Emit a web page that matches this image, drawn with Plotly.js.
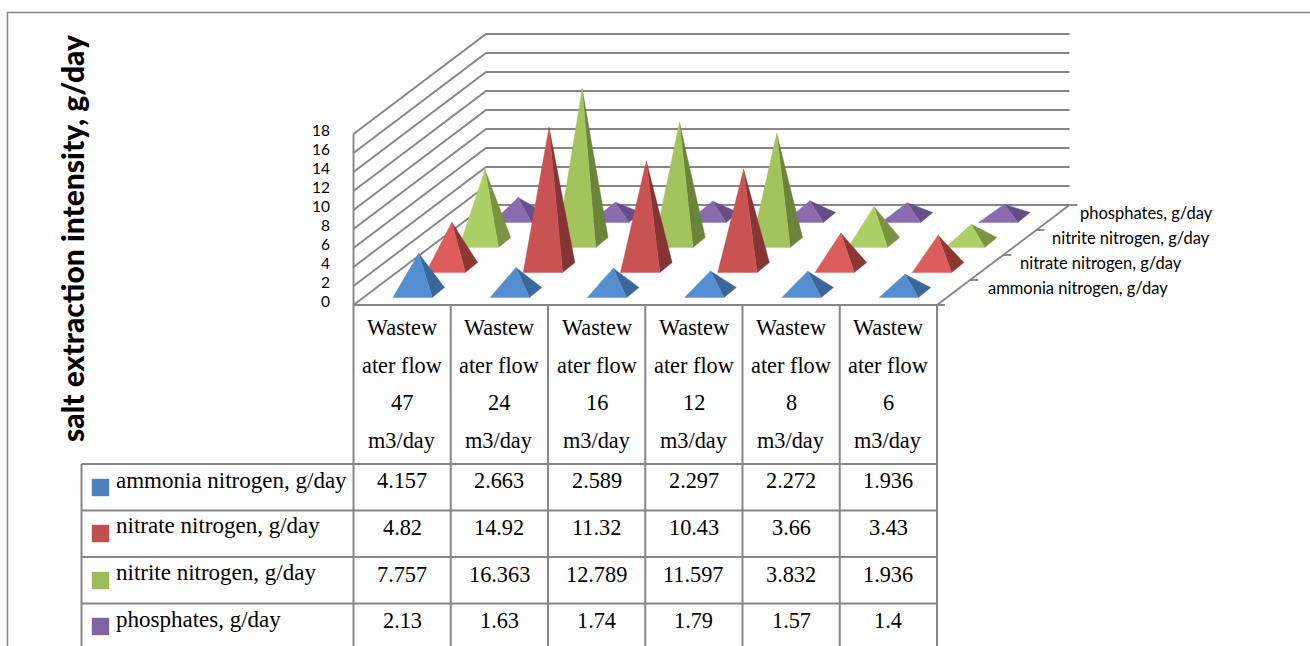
<!DOCTYPE html>
<html><head><meta charset="utf-8">
<script src="https://cdn.plot.ly/plotly-3.0.1.min.js"></script>
<style>html,body{margin:0;padding:0;background:#fff;overflow:hidden}#c{width:1310px;height:646px}</style>
</head><body><div id="c"></div>
<script>
const categoryLines = [
  ["Wastew","ater flow","47","m3/day"],
  ["Wastew","ater flow","24","m3/day"],
  ["Wastew","ater flow","16","m3/day"],
  ["Wastew","ater flow","12","m3/day"],
  ["Wastew","ater flow","8","m3/day"],
  ["Wastew","ater flow","6","m3/day"]
];
const seriesNames = ["ammonia nitrogen, g/day","nitrate nitrogen, g/day","nitrite nitrogen, g/day","phosphates, g/day"];
const ammonia = [4.157,2.663,2.589,2.297,2.272,1.936];
const nitrate = [4.82,14.92,11.32,10.43,3.66,3.43];
const nitrite = [7.757,16.363,12.789,11.597,3.832,1.936];
const phosphates = [2.13,1.63,1.74,1.79,1.57,1.4];
const seriesValues = [ammonia,nitrate,nitrite,phosphates];
const tableText = [
  ["4.157","2.663","2.589","2.297","2.272","1.936"],
  ["4.82","14.92","11.32","10.43","3.66","3.43"],
  ["7.757","16.363","12.789","11.597","3.832","1.936"],
  ["2.13","1.63","1.74","1.79","1.57","1.4"]
];
const axisTitle = "salt extraction intensity, g/day";
const legendColors = ["#4f81bd","#c0504d","#9bbb59","#8064a2"];
const faceTall  = [["#558ed0","#3b6699"],["#c95352","#853534"],["#a3c45d","#6b843c"],["#8a6bb0","#664d85"]];
const faceShort = [["#558ed0","#3b6699"],["#dc5d5b","#8e3836"],["#add066","#7a9443"],["#8a6bb0","#664d85"]];

// oblique projection of the Excel 3-D box onto the page
const originX = 353.5, originY = 305, catStep = 97.25;
const depthDX = 33.125, depthDY = -25, unitPx = 9.4, wallUnitPx = 9.5;
const halfW = 19.7, halfDX = 6.15, halfDY = -5;
const LINE = "#868686";

const traces = [];
function addLine(xs, ys, w) {
  traces.push({x:xs,y:ys,mode:"lines",type:"scatter",line:{color:LINE,width:w||1.9},hoverinfo:"skip",showlegend:false});
}
function addPoly(xs, ys, color) {
  traces.push({x:xs.concat(xs[0]),y:ys.concat(ys[0]),mode:"lines",type:"scatter",fill:"toself",fillcolor:color,
    line:{color:color,width:0.4},hoverinfo:"skip",showlegend:false});
}

// outer frame
addLine([7.5,7.5,1310],[646,12.5,12.5],1.5);

// walls
const nCat = categoryLines.length, nSer = seriesNames.length;
const backX = originX + depthDX*nSer, backY = originY + depthDY*nSer;
const rightX = originX + catStep*nCat;
for (let v = 0; v <= 18; v += 2) {
  const h = v*wallUnitPx;
  addLine([originX, backX, rightX + depthDX*nSer], [originY-h, backY-h, backY-h]);
}
addLine([originX,originX],[originY,originY-18*wallUnitPx]);

// floor edges and depth ticks
addLine([originX,rightX],[originY,originY]);
addLine([rightX,rightX+depthDX*nSer],[originY,backY]);
for (let k = 0; k <= nSer; k++) {
  const tx = rightX + depthDX*k, ty = originY + depthDY*k;
  addLine([tx,tx+8],[ty,ty]);
}

// pyramids, back row first
for (let s = nSer-1; s >= 0; s--) {
  seriesValues[s].forEach((v,c) => {
    const cx = originX + catStep*(c+0.5) + depthDX*(s+0.5);
    const cy = originY + depthDY*(s+0.5);
    const ax = cx, ay = cy - v*unitPx;
    const flx = cx-halfW-halfDX, fly = cy-halfDY;
    const frx = cx+halfW-halfDX, fry = cy-halfDY;
    const brx = cx+halfW+halfDX, bry = cy+halfDY;
    const pal = v < 8 ? faceShort : faceTall;
    addPoly([frx,brx,ax],[fry,bry,ay],pal[s][1]);
    addPoly([flx,frx,ax],[fly,fry,ay],pal[s][0]);
  });
}

// data table grid
const tableBottom = 650, headTop = 305, rowTops = [464,510.5,557,603.5];
for (let c = 0; c <= nCat; c++) {
  const x = originX + catStep*c;
  addLine([x,x],[headTop,tableBottom],2);
}
addLine([81.5,81.5],[rowTops[0],tableBottom],2);
rowTops.forEach(y => addLine([81.5,rightX],[y,y],2));

// legend keys in the table
const keyTops = [479,525,572,618];
keyTops.forEach((y,i) => addPoly([92,109,109,92],[y,y,y+17,y+17],legendColors[i]));

const serif = "Liberation Serif, serif", sans = "Lato, sans-serif";
const ann = [];
function text(x,y,t,size,family,anchor,extra) {
  ann.push(Object.assign({x:x,y:y,xref:"x",yref:"y",text:t,showarrow:false,xanchor:anchor||"center",yanchor:"middle",
    font:{size:size,family:family,color:"#000"}},extra||{}));
}
const headY = [327.5,365.5,402.5,440.5];
categoryLines.forEach((lines,c) => {
  const x = originX + catStep*(c+0.5);
  lines.forEach((t,i) => text(x,headY[i],t,22.3,serif));
});
const rowY = [480.5,527.5,574.5,620.5], nameY = [480.5,525.5,572.5,619.5];
seriesNames.forEach((n,s) => {
  text(114,nameY[s],n,23,serif,"left");
  tableText[s].forEach((t,c) => text(originX+catStep*(c+0.5),rowY[s],t,22.3,serif));
});
const depthRight = [1170,1184,1212,1215], depthY = [288,263,238,213];
seriesNames.forEach((n,s) => text(depthRight[s],depthY[s],n,16.5,sans,"right"));
text(72,238,axisTitle,30,sans,"center",{textangle:-90,font:{size:30,family:sans,color:"#000",weight:900}});

const layout = {
  width:1310,height:646,margin:{l:0,r:0,t:0,b:0},paper_bgcolor:"#fff",plot_bgcolor:"rgba(0,0,0,0)",showlegend:false,
  xaxis:{range:[0,1310],visible:false,fixedrange:true},
  yaxis:{range:[646,0],visible:false,fixedrange:true,domain:[0,1]},
  yaxis2:{domain:[(646-301.7)/646,(646-130.7)/646],range:[0,18],dtick:2,tick0:0,anchor:"free",
    position:330/1310,side:"left",showgrid:false,zeroline:false,showline:false,ticks:"",
    tickfont:{family:sans,size:15.5,color:"#000"},fixedrange:true},
  annotations:ann
};
// a hidden carrier trace gives the value axis its labels
traces.push({x:[0],y:[0],yaxis:"y2",mode:"markers",marker:{opacity:0},hoverinfo:"skip",showlegend:false});
Plotly.newPlot("c",traces,layout,{displayModeBar:false,staticPlot:true});
</script></body></html>
